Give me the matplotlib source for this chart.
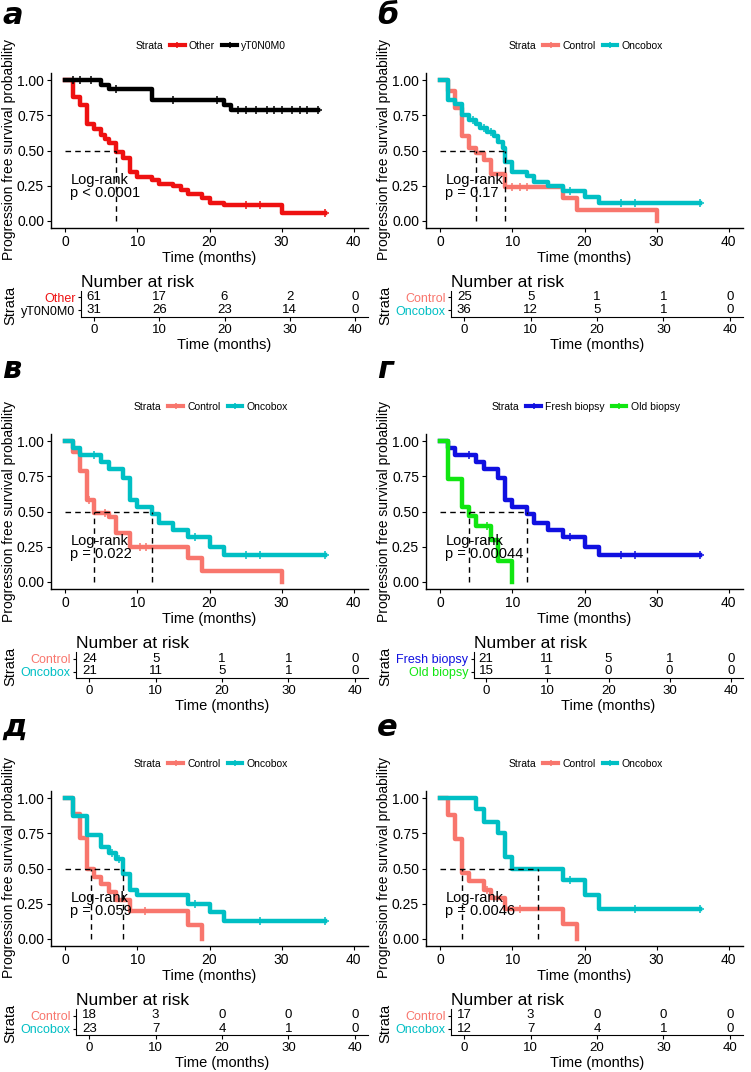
import numpy as np
import matplotlib
matplotlib.use('Agg')
import matplotlib.pyplot as plt
from matplotlib.lines import Line2D

plt.rcParams['font.family'] = ['Liberation Sans', 'DejaVu Sans']

W, H = 751, 1072

# --- date ---
times_risk = [0, 10, 20, 30, 40]

# panel а
a_names = ['Other', 'yT0N0M0']
a_colors = ['#EE1111', '#000000']
a_other_t = [1, 2, 3, 4, 5, 5.5, 6, 7, 8, 9, 10, 12, 13, 15, 16, 17, 19, 20, 22, 30]
a_other_s = [0.88, 0.82, 0.69, 0.65, 0.61, 0.58, 0.55, 0.49, 0.45, 0.35, 0.31, 0.29, 0.26,
             0.25, 0.22, 0.19, 0.16, 0.13, 0.11, 0.055]
a_other_cens = [25, 27, 36]
a_other_end = 36
a_y_t = [5, 6, 12, 22, 23]
a_y_s = [0.968, 0.935, 0.86, 0.82, 0.785]
a_y_cens = [1, 2, 3.5, 7, 15, 21, 24, 25, 26.5, 28, 29, 30, 31.5, 32.5, 33.5, 35]
a_y_end = 35
a_medians = [7]
a_p = 'p < 0.0001'
a_risk = [[61, 17, 6, 2, 0], [31, 26, 23, 14, 0]]

# panel б
b_names = ['Control', 'Oncobox']
b_colors = ['#F8766D', '#00BFC4']
b_ctrl_t = [1, 2, 3, 4, 5, 6, 7, 9, 17, 19, 30]
b_ctrl_s = [0.92, 0.80, 0.60, 0.52, 0.48, 0.43, 0.33, 0.24, 0.16, 0.08, 0.0]
b_ctrl_cens = [10, 11, 12]
b_ctrl_end = 30
b_onco_t = [1, 2, 3, 4, 5, 5.5, 6.5, 7.5, 8, 8.7, 9, 10, 12, 13, 15, 17, 20, 22]
b_onco_s = [0.86, 0.83, 0.75, 0.72, 0.69, 0.66, 0.63, 0.60, 0.56, 0.52, 0.42, 0.35, 0.32,
            0.28, 0.25, 0.21, 0.17, 0.125]
b_onco_cens = [4.5, 6, 7, 18, 25, 27, 36]
b_onco_end = 36
b_medians = [5, 9]
b_p = 'p = 0.17'
b_risk = [[25, 5, 1, 1, 0], [36, 12, 5, 1, 0]]

# panel в
v_names = ['Control', 'Oncobox']
v_colors = ['#F8766D', '#00BFC4']
v_ctrl_t = [1, 2, 3, 4, 6, 7, 9, 17, 19, 30]
v_ctrl_s = [0.92, 0.79, 0.58, 0.49, 0.46, 0.35, 0.25, 0.17, 0.08, 0.0]
v_ctrl_cens = [3.3, 5.5, 10.3, 11.2]
v_ctrl_end = 30
v_onco_t = [1, 2, 5, 6, 8, 9, 10, 12, 13, 15, 17, 20, 22]
v_onco_s = [0.95, 0.90, 0.85, 0.80, 0.74, 0.58, 0.53, 0.48, 0.42, 0.37, 0.32, 0.25, 0.19]
v_onco_cens = [4, 18, 25, 27, 36]
v_onco_end = 36
v_medians = [4, 12]
v_p = 'p = 0.022'
v_risk = [[24, 5, 1, 1, 0], [21, 11, 5, 1, 0]]

# panel г
g_names = ['Fresh biopsy', 'Old biopsy']
g_colors = ['#1010E0', '#11E611']
g_fresh_t = [1, 2, 5, 6, 8, 9, 10, 12, 13, 15, 17, 20, 22]
g_fresh_s = [0.95, 0.90, 0.85, 0.80, 0.74, 0.58, 0.53, 0.48, 0.42, 0.37, 0.32, 0.25, 0.19]
g_fresh_cens = [4, 18, 25, 27, 36]
g_fresh_end = 36
g_old_t = [1, 3, 4, 5, 7, 8, 10]
g_old_s = [0.73, 0.53, 0.47, 0.40, 0.30, 0.15, 0.0]
g_old_cens = [6.5]
g_old_end = 10
g_medians = [4, 12]
g_p = 'p = 0.00044'
g_risk = [[21, 11, 5, 1, 0], [15, 1, 0, 0, 0]]

# panel д
d_names = ['Control', 'Oncobox']
d_colors = ['#F8766D', '#00BFC4']
d_ctrl_t = [1, 2, 3, 4, 5, 6, 7, 9, 17, 19]
d_ctrl_s = [0.89, 0.72, 0.50, 0.44, 0.39, 0.33, 0.28, 0.20, 0.10, 0.0]
d_ctrl_cens = [11]
d_ctrl_end = 19
d_onco_t = [1, 3, 5, 6, 7, 8, 9, 10, 17, 20, 22]
d_onco_s = [0.87, 0.74, 0.65, 0.61, 0.57, 0.46, 0.35, 0.31, 0.25, 0.19, 0.125]
d_onco_cens = [6.5, 7.5, 18, 27, 36]
d_onco_end = 36
d_medians = [3.5, 8]
d_p = 'p = 0.059'
d_risk = [[18, 3, 0, 0, 0], [23, 7, 4, 1, 0]]

# panel е
e_names = ['Control', 'Oncobox']
e_colors = ['#F8766D', '#00BFC4']
e_ctrl_t = [1, 2, 3, 4, 6, 7, 9, 17, 19]
e_ctrl_s = [0.88, 0.71, 0.47, 0.41, 0.35, 0.29, 0.21, 0.105, 0.0]
e_ctrl_cens = [6.5, 11]
e_ctrl_end = 19
e_onco_t = [5, 6, 8, 9, 10, 17, 20, 22]
e_onco_s = [0.92, 0.83, 0.75, 0.58, 0.50, 0.42, 0.31, 0.21]
e_onco_cens = [18, 27, 36]
e_onco_end = 36
e_medians = [3, 13.5]
e_p = 'p = 0.0046'
e_risk = [[17, 3, 0, 0, 0], [12, 7, 4, 1, 0]]


def box(x0, y0, x1, y1):
    # coordonate in pixeli (sus-stanga) -> fractiuni din figura
    return [x0 / W, 1 - y1 / H, (x1 - x0) / W, (y1 - y0) / H]


def valoare_treapta(t, s, x):
    idx = np.searchsorted(t, x, side='right')
    return np.concatenate([[1.0], s])[idx]


def deseneaza_panou(fig, ox, oy, label, lab_base, curbe, names, colors, medians,
                    ptext, risk, table_left):
    # --- curbele Kaplan-Meier ---
    ax = fig.add_axes(box(ox + 51, oy + 73, ox + 368, oy + 228))
    for (t, s, cens, end), c in zip(curbe, colors):
        t = np.array(t, dtype=float)
        s = np.array(s, dtype=float)
        xs = np.concatenate([[0], t, [end]])
        ys = np.concatenate([[1.0], s, [s[-1]]])
        ax.step(xs, ys, where='post', color=c, lw=3.2, zorder=2)
        cens = np.array(cens, dtype=float)
        ax.plot(cens, valoare_treapta(t, s, cens), '+', color=c, ms=5.5, mew=1.1, zorder=2)

    ax.plot([0, max(medians)], [0.5, 0.5], color='black', lw=1.0, dashes=(4, 3), zorder=3)
    for m in medians:
        ax.plot([m, m], [0, 0.5], color='black', lw=1.0, dashes=(4, 3), zorder=3)

    ax.text(0.7, 0.245, 'Log-rank\n' + ptext, fontsize=10.5, ha='left', va='center',
            linespacing=0.95, zorder=4)

    ax.set_xlim(-2, 42)
    ax.set_ylim(-0.05, 1.05)
    ax.set_xticks(times_risk)
    ax.set_yticks([0, 0.25, 0.5, 0.75, 1.0])
    ax.set_yticklabels(['0.00', '0.25', '0.50', '0.75', '1.00'])
    ax.tick_params(labelsize=10, length=3, width=0.8, pad=2)
    for sp in ['top', 'right']:
        ax.spines[sp].set_visible(False)
    ax.spines['left'].set_linewidth(1.0)
    ax.spines['bottom'].set_linewidth(1.0)
    ax.set_xlabel('Time (months)', fontsize=10.5, labelpad=1.5)
    fig.text((ox + 9) / W, 1 - (oy + 150) / H, 'Progression free survival probability',
             rotation=90, ha='center', va='center', fontsize=10)

    # legenda
    handles = [Line2D([], [], color=c, lw=3, marker='+', ms=5, mew=1.1) for c in colors]
    leg = ax.legend(handles, names, loc='center',
                    bbox_to_anchor=((ox + 228) / W, 1 - (oy + 46) / H),
                    bbox_transform=fig.transFigure, ncol=2, frameon=False, fontsize=7.5,
                    handlelength=1.4, handletextpad=0.4, columnspacing=0.7,
                    borderpad=0, borderaxespad=0)

    # eticheta panoului
    fig.text((ox + 2) / W, 1 - (oy + lab_base) / H, label, fontsize=22,
             family='DejaVu Sans', fontweight='bold', style='oblique',
             ha='left', va='baseline')

    # --- tabelul "Number at risk" ---
    tax = fig.add_axes(box(ox + table_left, oy + 291, ox + 368, oy + 317))
    rows = [2, 1]
    for r, nums in zip(rows, risk):
        for t, n in zip(times_risk, nums):
            tax.text(t, r, str(n), ha='center', va='center', fontsize=9.5)
    tax.set_xlim(-2, 42)
    tax.set_ylim(0.5, 2.5)
    tax.set_xticks(times_risk)
    tax.set_yticks(rows)
    tax.set_yticklabels(names)
    for tl, c in zip(tax.get_yticklabels(), colors):
        tl.set_color(c)
    tax.tick_params(axis='y', labelsize=9, length=2.5, width=0.8, pad=1.5)
    tax.tick_params(axis='x', labelsize=9.5, length=3, width=0.8, pad=2)
    for sp in ['top', 'right']:
        tax.spines[sp].set_visible(False)
    tax.set_title('Number at risk', loc='left', fontsize=12.5, pad=3)
    tax.set_xlabel('Time (months)', fontsize=10.5, labelpad=1.5)
    fig.text((ox + 10) / W, 1 - (oy + 305) / H, 'Strata', rotation=90,
             ha='center', va='center', fontsize=10.5)
    return leg, oy


fig = plt.figure(figsize=(W / 100, H / 100), dpi=100)

panouri = [
    (0, 0, 'а', 24, [(a_other_t, a_other_s, a_other_cens, a_other_end),
                     (a_y_t, a_y_s, a_y_cens, a_y_end)],
     a_names, a_colors, a_medians, a_p, a_risk, 81),
    (375, 0, 'б', 24, [(b_ctrl_t, b_ctrl_s, b_ctrl_cens, b_ctrl_end),
                       (b_onco_t, b_onco_s, b_onco_cens, b_onco_end)],
     b_names, b_colors, b_medians, b_p, b_risk, 76),
    (0, 361, 'в', 17, [(v_ctrl_t, v_ctrl_s, v_ctrl_cens, v_ctrl_end),
                       (v_onco_t, v_onco_s, v_onco_cens, v_onco_end)],
     v_names, v_colors, v_medians, v_p, v_risk, 76),
    (375, 361, 'г', 17, [(g_fresh_t, g_fresh_s, g_fresh_cens, g_fresh_end),
                         (g_old_t, g_old_s, g_old_cens, g_old_end)],
     g_names, g_colors, g_medians, g_p, g_risk, 99),
    (0, 718, 'д', 18, [(d_ctrl_t, d_ctrl_s, d_ctrl_cens, d_ctrl_end),
                       (d_onco_t, d_onco_s, d_onco_cens, d_onco_end)],
     d_names, d_colors, d_medians, d_p, d_risk, 76),
    (375, 718, 'е', 18, [(e_ctrl_t, e_ctrl_s, e_ctrl_cens, e_ctrl_end),
                         (e_onco_t, e_onco_s, e_onco_cens, e_onco_end)],
     e_names, e_colors, e_medians, e_p, e_risk, 76),
]

legende = [deseneaza_panou(fig, *p) for p in panouri]

# "Strata" la stanga fiecarei legende
fig.canvas.draw()
for leg, oy in legende:
    bb = leg.get_window_extent()
    fig.text((bb.x0 - 7) / W, 1 - (oy + 46) / H, 'Strata', ha='right', va='center',
             fontsize=7.5)

fig.savefig('out.png', dpi=100)
